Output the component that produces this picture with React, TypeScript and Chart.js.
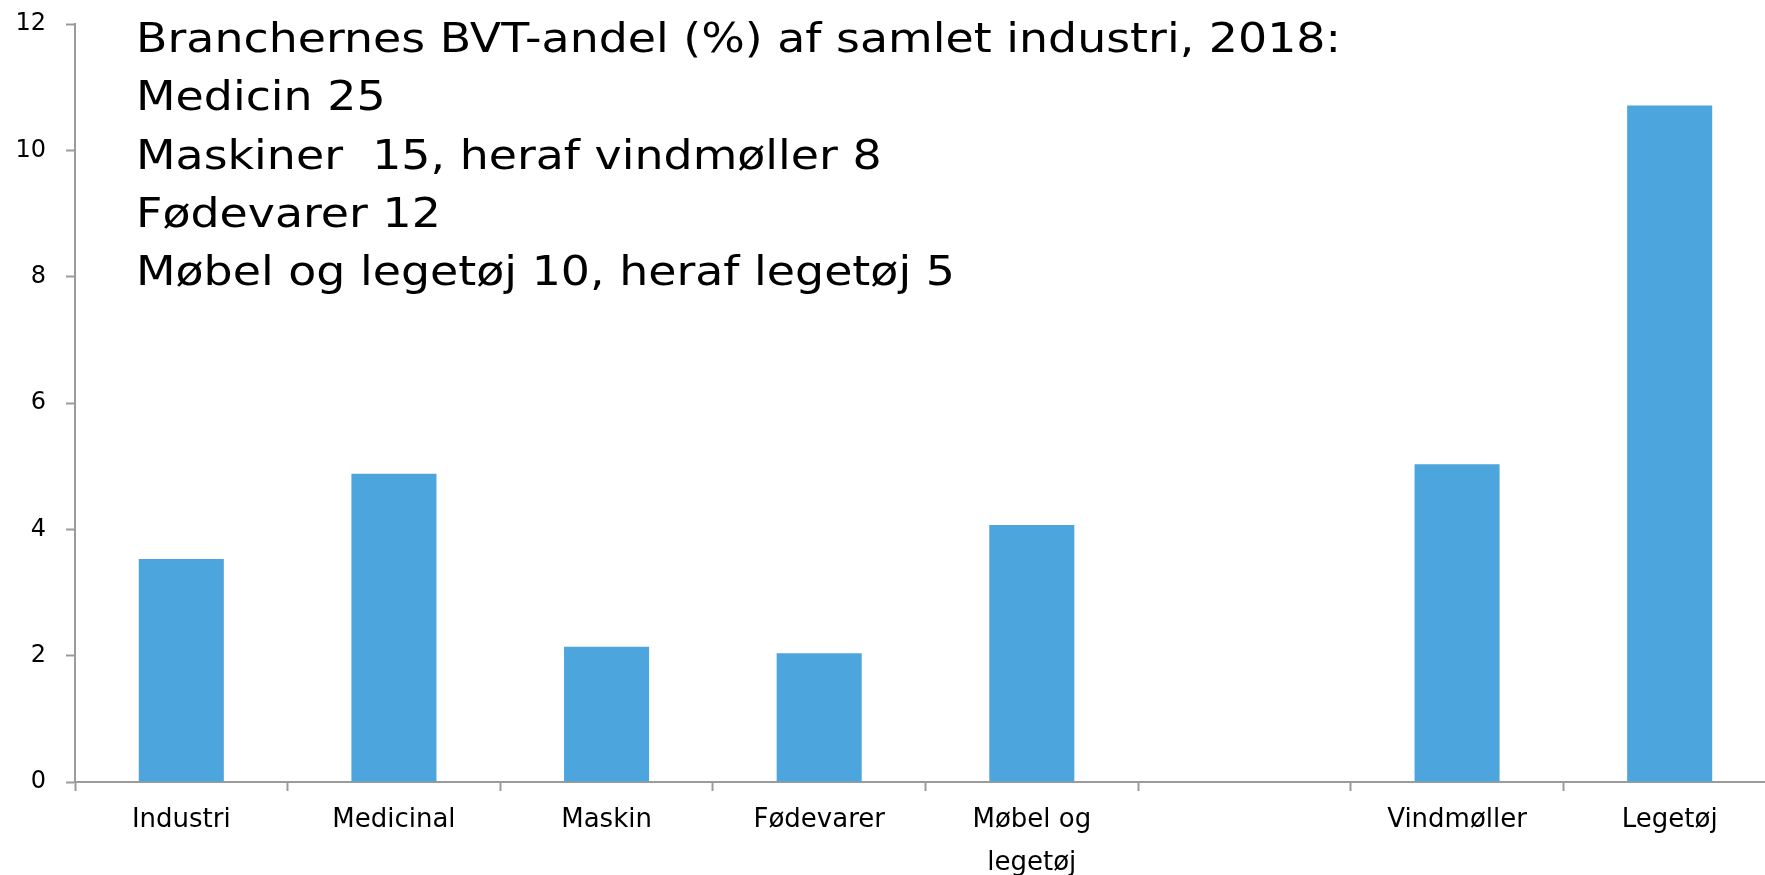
import React, { useEffect, useRef } from "react";
import { Chart, registerables } from "chart.js";

Chart.register(...registerables);

const CATEGORIES: (string | string[])[] = [
  "Industri",
  "Medicinal",
  "Maskin",
  "Fødevarer",
  ["Møbel og", "legetøj"],
  "",
  "Vindmøller",
  "Legetøj",
];
const VALUES: (number | null)[] = [3.53, 4.88, 2.14, 2.04, 4.07, null, 5.03, 10.71];
const Y_MIN = 0;
const Y_MAX = 12;
const Y_STEP = 2;
const TITLE_LINES = [
  "Branchernes BVT-andel (%) af samlet industri, 2018:",
  "Medicin 25",
  "Maskiner  15, heraf vindmøller 8",
  "Fødevarer 12",
  "Møbel og legetøj 10, heraf legetøj 5",
];

const FONT = "'DejaVu Sans', 'Noto Sans', sans-serif";
const AXIS_COLOR = "#9b9b9b";
const BAR_COLOR = "#4DA5DD";
const TITLE_WIDTH = 1205;

const titlePlugin = {
  id: "titleLines",
  afterDraw(chart: any) {
    const ctx = chart.ctx;
    ctx.save();
    ctx.fillStyle = "#000";
    ctx.font = `41px ${FONT}`;
    ctx.textAlign = "left";
    ctx.textBaseline = "alphabetic";
    const w = ctx.measureText(TITLE_LINES[0]).width;
    const sx = w > 0 ? TITLE_WIDTH / w : 1;
    ctx.translate(136, 0);
    ctx.scale(sx, 1);
    TITLE_LINES.forEach((line, i) => {
      ctx.fillText(line, 0, 52 + i * 58.25);
    });
    ctx.restore();
  },
};

export default function App() {
  const ref = useRef<HTMLCanvasElement | null>(null);
  useEffect(() => {
    if (!ref.current) return;
    const chart = new Chart(ref.current, {
      type: "bar",
      data: {
        labels: CATEGORIES as any,
        datasets: [
          {
            data: VALUES as any,
            backgroundColor: BAR_COLOR,
            borderWidth: 0,
            barPercentage: 0.4,
            categoryPercentage: 1.0,
          },
        ],
      },
      options: {
        animation: false,
        responsive: true,
        maintainAspectRatio: false,
        layout: { padding: { top: 24, left: 0, right: 0, bottom: 0 } },
        plugins: {
          legend: { display: false },
          tooltip: { enabled: false },
          title: { display: false },
        },
        scales: {
          x: {
            offset: true,
            grid: {
              offset: true,
              drawOnChartArea: false,
              drawTicks: true,
              tickLength: 9,
              tickWidth: 2,
              tickColor: AXIS_COLOR,
            },
            border: { display: true, color: AXIS_COLOR, width: 2 },
            ticks: {
              color: "#000",
              padding: 8,
              maxRotation: 0,
              autoSkip: false,
              font: { family: FONT, size: 26, lineHeight: 1.65 },
            },
            afterFit: (s: any) => {
              s.height = 93;
              s.paddingLeft = 0;
              s.paddingRight = 0;
            },
          },
          y: {
            min: Y_MIN,
            max: Y_MAX,
            grid: {
              drawOnChartArea: false,
              drawTicks: true,
              tickLength: 9,
              tickWidth: 2,
              tickColor: AXIS_COLOR,
            },
            border: { display: true, color: AXIS_COLOR, width: 2 },
            ticks: {
              stepSize: Y_STEP,
              color: "#000",
              padding: 20,
              font: { family: FONT, size: 24 },
            },
            afterFit: (s: any) => {
              s.width = 75;
              s.paddingTop = 0;
              s.paddingBottom = 0;
            },
          },
        },
      },
      plugins: [titlePlugin],
    });
    return () => chart.destroy();
  }, []);

  return (
    <div
      style={{
        position: "fixed",
        left: 0,
        top: 0,
        width: 1765,
        height: 875,
        overflow: "hidden",
        background: "#fff",
      }}
    >
      <div style={{ position: "relative", width: 1776, height: 875 }}>
        <canvas ref={ref} />
      </div>
    </div>
  );
}
